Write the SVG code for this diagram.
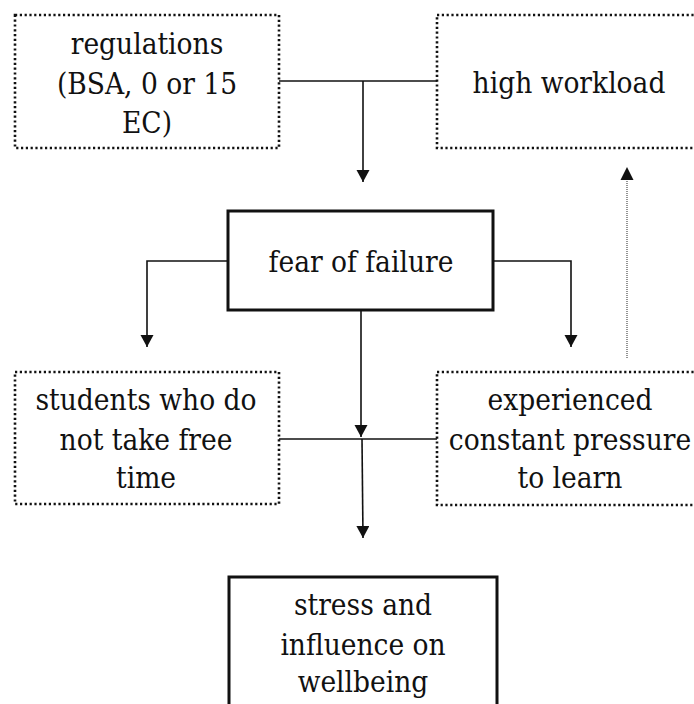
<svg xmlns="http://www.w3.org/2000/svg" width="694" height="704" viewBox="0 0 694 704">
<style>
text{font-family:'DejaVu Serif Condensed','DejaVu Serif',serif;font-stretch:condensed;font-size:29.5px;fill:#111;text-anchor:middle}
.dot{fill:#fff;stroke:#111;stroke-width:2.6;stroke-dasharray:2.2 2.6}
.solid{fill:#fff;stroke:#111;stroke-width:3}
.c{fill:none;stroke:#111;stroke-width:1.6}
.d{fill:none;stroke:#666;stroke-width:1.4;stroke-dasharray:1 1}
</style>
<defs>
<marker id="ah" markerUnits="userSpaceOnUse" markerWidth="14" markerHeight="14" refX="12" refY="6.5" orient="auto">
<path d="M0,0 L12,6.5 L0,13 z" fill="#111"/>
</marker>
</defs>
<g id="regulations">
<rect class="dot" x="15" y="15" width="264" height="133"/>
<text x="147" y="54">regulations</text>
<text x="147" y="94">(BSA, 0 or 15</text>
<text x="147" y="133">EC)</text>
</g>
<g id="high-workload">
<rect class="dot" x="437" y="15" width="270" height="133"/>
<text x="569" y="93">high workload</text>
</g>
<g id="fear">
<rect class="solid" x="228" y="211" width="265" height="99"/>
<text x="361" y="272">fear of failure</text>
</g>
<g id="students">
<rect class="dot" x="15" y="372" width="264" height="132"/>
<text x="146" y="410">students who do</text>
<text x="146" y="450">not take free</text>
<text x="146" y="488">time</text>
</g>
<g id="experienced">
<rect class="dot" x="437" y="372" width="270" height="133"/>
<text x="570" y="410">experienced</text>
<text x="570" y="450">constant pressure</text>
<text x="570" y="488">to learn</text>
</g>
<g id="stress">
<rect class="solid" x="229" y="577" width="268" height="140"/>
<text x="363" y="615">stress and</text>
<text x="363" y="655">influence on</text>
<text x="363" y="692">wellbeing</text>
</g>
<g id="connectors">
<path class="c" d="M279,81 H437"/>
<path class="c" d="M363,81 V182" marker-end="url(#ah)"/>
<path class="c" d="M228,261 H147 V347" marker-end="url(#ah)"/>
<path class="c" d="M493,261 H571 V347" marker-end="url(#ah)"/>
<path class="c" d="M361,310 V437" marker-end="url(#ah)"/>
<path class="c" d="M279,439 H437"/>
<path class="c" d="M362,439 L363,538" marker-end="url(#ah)"/>
<path class="d" d="M627,358 V168"/>
<path d="M620.5,180 L627,167 L633.5,180 z" fill="#111"/>
</g>
</svg>
